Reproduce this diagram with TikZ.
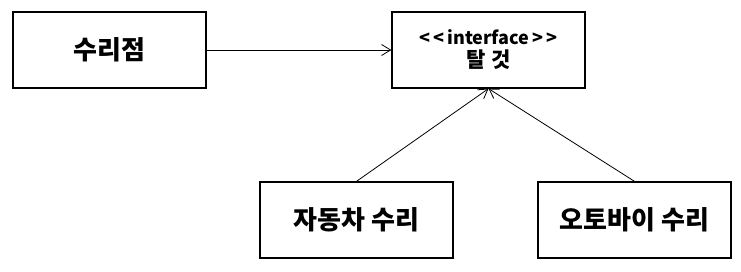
\documentclass[tikz,border=0pt]{standalone}
\usepackage{fontspec}
\setmainfont{Noto Sans CJK KR}
\usepackage{tikz}
\usetikzlibrary{arrows.meta, positioning}

\begin{document}
\begin{tikzpicture}[
    x=1pt, y=-1pt,
    box/.style={
        rectangle, minimum width=193pt, minimum height=76pt,
        draw=black, line width=1.3pt, fill=white,
        font=\fontsize{26}{30}\selectfont\bfseries, align=center
    },
    ifacebox/.style={box, font=\fontsize{18}{23}\selectfont\bfseries},
    arr/.style={-{Straight Barb[length=9pt, width=11pt]}, line width=0.8pt, black}
]
\useasboundingbox (0,0) rectangle (741,272);

% ===================================================================
% Top row
% ===================================================================
\node[box] (shop) at (109.5, 50) {수리점};
\node[ifacebox] (ride) at (488.5, 50)
    {<\,<\,interface\,>\,>\\{\fontsize{21}{23}\selectfont 탈\hspace{6pt}것}};

% ===================================================================
% Bottom row
% ===================================================================
\node[box] (car) at (356.5, 220) {자동차 수리};
\node[box] (bike) at (634.5, 220) {오토바이 수리};

% connectors
\draw[arr] (shop.east) -- (ride.west);
\draw[arr] (car.north) -- (ride.south);
\draw[arr] (bike.north) -- (ride.south);

\end{tikzpicture}
\end{document}
